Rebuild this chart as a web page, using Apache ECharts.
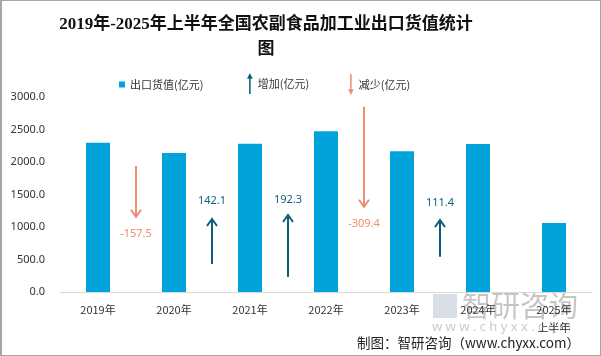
<!DOCTYPE html>
<html>
<head>
<meta charset="utf-8">
<script src="https://cdn.jsdelivr.net/npm/echarts@6/dist/echarts.min.js"></script>
<style>
html,body{margin:0;padding:0;background:#fff;}
#wrap{position:relative;width:601px;height:356px;}
#chart{width:601px;height:356px;}
#frame{position:absolute;left:0;top:0;width:601px;height:356px;box-sizing:border-box;border:1px solid #a6a6a6;border-left-width:2px;pointer-events:none;}
</style>
</head>
<body>
<div id="wrap"><div id="chart"></div><div id="frame"></div></div>
<script>
// ---- data ----
var categories = ['2019年', '2020年', '2021年', '2022年', '2023年', '2024年', '2025年\n上半年'];
var exportValues = [2297.0, 2139.5, 2281.6, 2473.9, 2164.5, 2275.9, 1061.0];
var changes = [-157.5, 142.1, 192.3, -309.4, 111.4];
var arrowX = [0.5, 1.5, 2.5, 3.5, 4.5];
var arrowFrom = [1938, 431, 231, 2851, 543];
var arrowTo = [1158, 1123, 1185, 1312, 1108];
var labelY = [892, 1405, 1415, 1046, 1369];
var yTicks = [0, 500, 1000, 1500, 2000, 2500, 3000];

var BAR = '#00a3da', UP = '#0d5e7d', DOWN = '#f28c74';

function buildArrows(sign) {
  var out = [];
  for (var i = 0; i < changes.length; i++) {
    if ((changes[i] > 0) === (sign > 0)) {
      out.push([arrowX[i], arrowFrom[i], arrowTo[i], labelY[i], changes[i]]);
    }
  }
  return out;
}

function renderArrow(color) {
  return function (params, api) {
    var x = api.value(0);
    var p1 = api.coord([x, api.value(1)]);
    var p2 = api.coord([x, api.value(2)]);
    var pl = api.coord([x, api.value(3)]);
    var dir = p2[1] > p1[1] ? 1 : -1;
    return {
      type: 'group',
      children: [
        { type: 'line', shape: { x1: p1[0], y1: p1[1], x2: p2[0], y2: p2[1] },
          style: { stroke: color, lineWidth: 2 } },
        { type: 'polyline', shape: { points: [[p2[0] - 5, p2[1] - dir * 7], [p2[0], p2[1]], [p2[0] + 5, p2[1] - dir * 7]] },
          style: { stroke: color, lineWidth: 2, fill: null } },
        { type: 'text', x: pl[0], y: pl[1],
          style: { text: api.value(4).toFixed(1), fill: color, fontSize: 11,
                   fontFamily: 'Noto Sans, Noto Sans CJK SC, sans-serif', align: 'center', verticalAlign: 'middle' } }
      ]
    };
  };
}

var upIcon = 'path://M3,0 L6,6 L3.8,6 L3.8,22 L2.2,22 L2.2,6 L0,6 Z';
var downIcon = 'path://M3,22 L6,16 L3.8,16 L3.8,0 L2.2,0 L2.2,16 L0,16 Z';
var FONT = 'Noto Sans CJK SC, sans-serif';

var chart = echarts.init(document.getElementById('chart'));
chart.setOption({
  animation: false,
  backgroundColor: '#fff',
  title: {
    text: '2019年-2025年上半年全国农副食品加工业出口货值统计\n图',
    left: 261, top: 7, textAlign: 'center',
    textStyle: { fontSize: 17, fontWeight: 'bold', color: '#111',
      fontFamily: 'Liberation Serif, Noto Sans CJK SC, serif', lineHeight: 25 }
  },
  legend: [
    { left: 114, top: 74, itemWidth: 6, itemHeight: 6, icon: 'rect',
      data: ['出口货值(亿元)'], textStyle: { fontSize: 11, color: '#333', fontFamily: FONT } },
    { left: 242, top: 68, itemWidth: 6, itemHeight: 21, icon: upIcon,
      data: ['增加(亿元)'], textStyle: { fontSize: 11, color: '#333', fontFamily: FONT } },
    { left: 343, top: 69, itemWidth: 6, itemHeight: 21, icon: downIcon,
      data: ['减少(亿元)'], textStyle: { fontSize: 11, color: '#333', fontFamily: FONT } }
  ],
  grid: { left: 60, right: 9, top: 97, bottom: 64 },
  xAxis: [
    { type: 'category', data: categories,
      axisLine: { lineStyle: { color: '#d9d9d9' } }, axisTick: { show: false },
      axisLabel: { fontSize: 11, color: '#333', margin: 9, lineHeight: 18, fontFamily: FONT } },
    { type: 'value', min: -0.5, max: 6.5, show: false }
  ],
  yAxis: {
    type: 'value', min: 0, max: 3000, interval: 500,
    axisLine: { show: false }, axisTick: { show: false }, splitLine: { show: false },
    axisLabel: { fontSize: 11, color: '#333', margin: 15, fontFamily: 'Noto Sans, sans-serif',
      formatter: function (v) { return v.toFixed(1); } }
  },
  series: [
    { name: '出口货值(亿元)', type: 'bar', data: exportValues, barWidth: 24,
      itemStyle: { color: BAR } },
    { name: '增加(亿元)', type: 'custom', xAxisIndex: 1, data: buildArrows(1),
      itemStyle: { color: UP }, renderItem: renderArrow(UP), z: 5 },
    { name: '减少(亿元)', type: 'custom', xAxisIndex: 1, data: buildArrows(-1),
      itemStyle: { color: DOWN }, renderItem: renderArrow(DOWN), z: 5 }
  ],
  graphic: [
    { type: 'text', left: 462, top: 291, z: -1,
      style: { text: '智研咨询', fontSize: 29, fill: 'rgba(150,150,150,0.55)', fontFamily: FONT } },
    { type: 'text', left: 432, top: 321, z: -1,
      style: { text: 'w w w . c h y x x . c o m', fontSize: 13, fill: 'rgba(150,150,150,0.5)', fontFamily: 'Noto Sans, sans-serif' } },
    { type: 'rect', left: 433, top: 294, z: -1, shape: { width: 24, height: 24 },
      style: { fill: 'rgba(170,180,200,0.45)' } },
    { type: 'text', right: 21, top: 336,
      style: { text: '制图：智研咨询（www.chyxx.com）', fontSize: 13.5, fill: '#222', fontFamily: FONT } }
  ]
});
</script>
</body>
</html>
